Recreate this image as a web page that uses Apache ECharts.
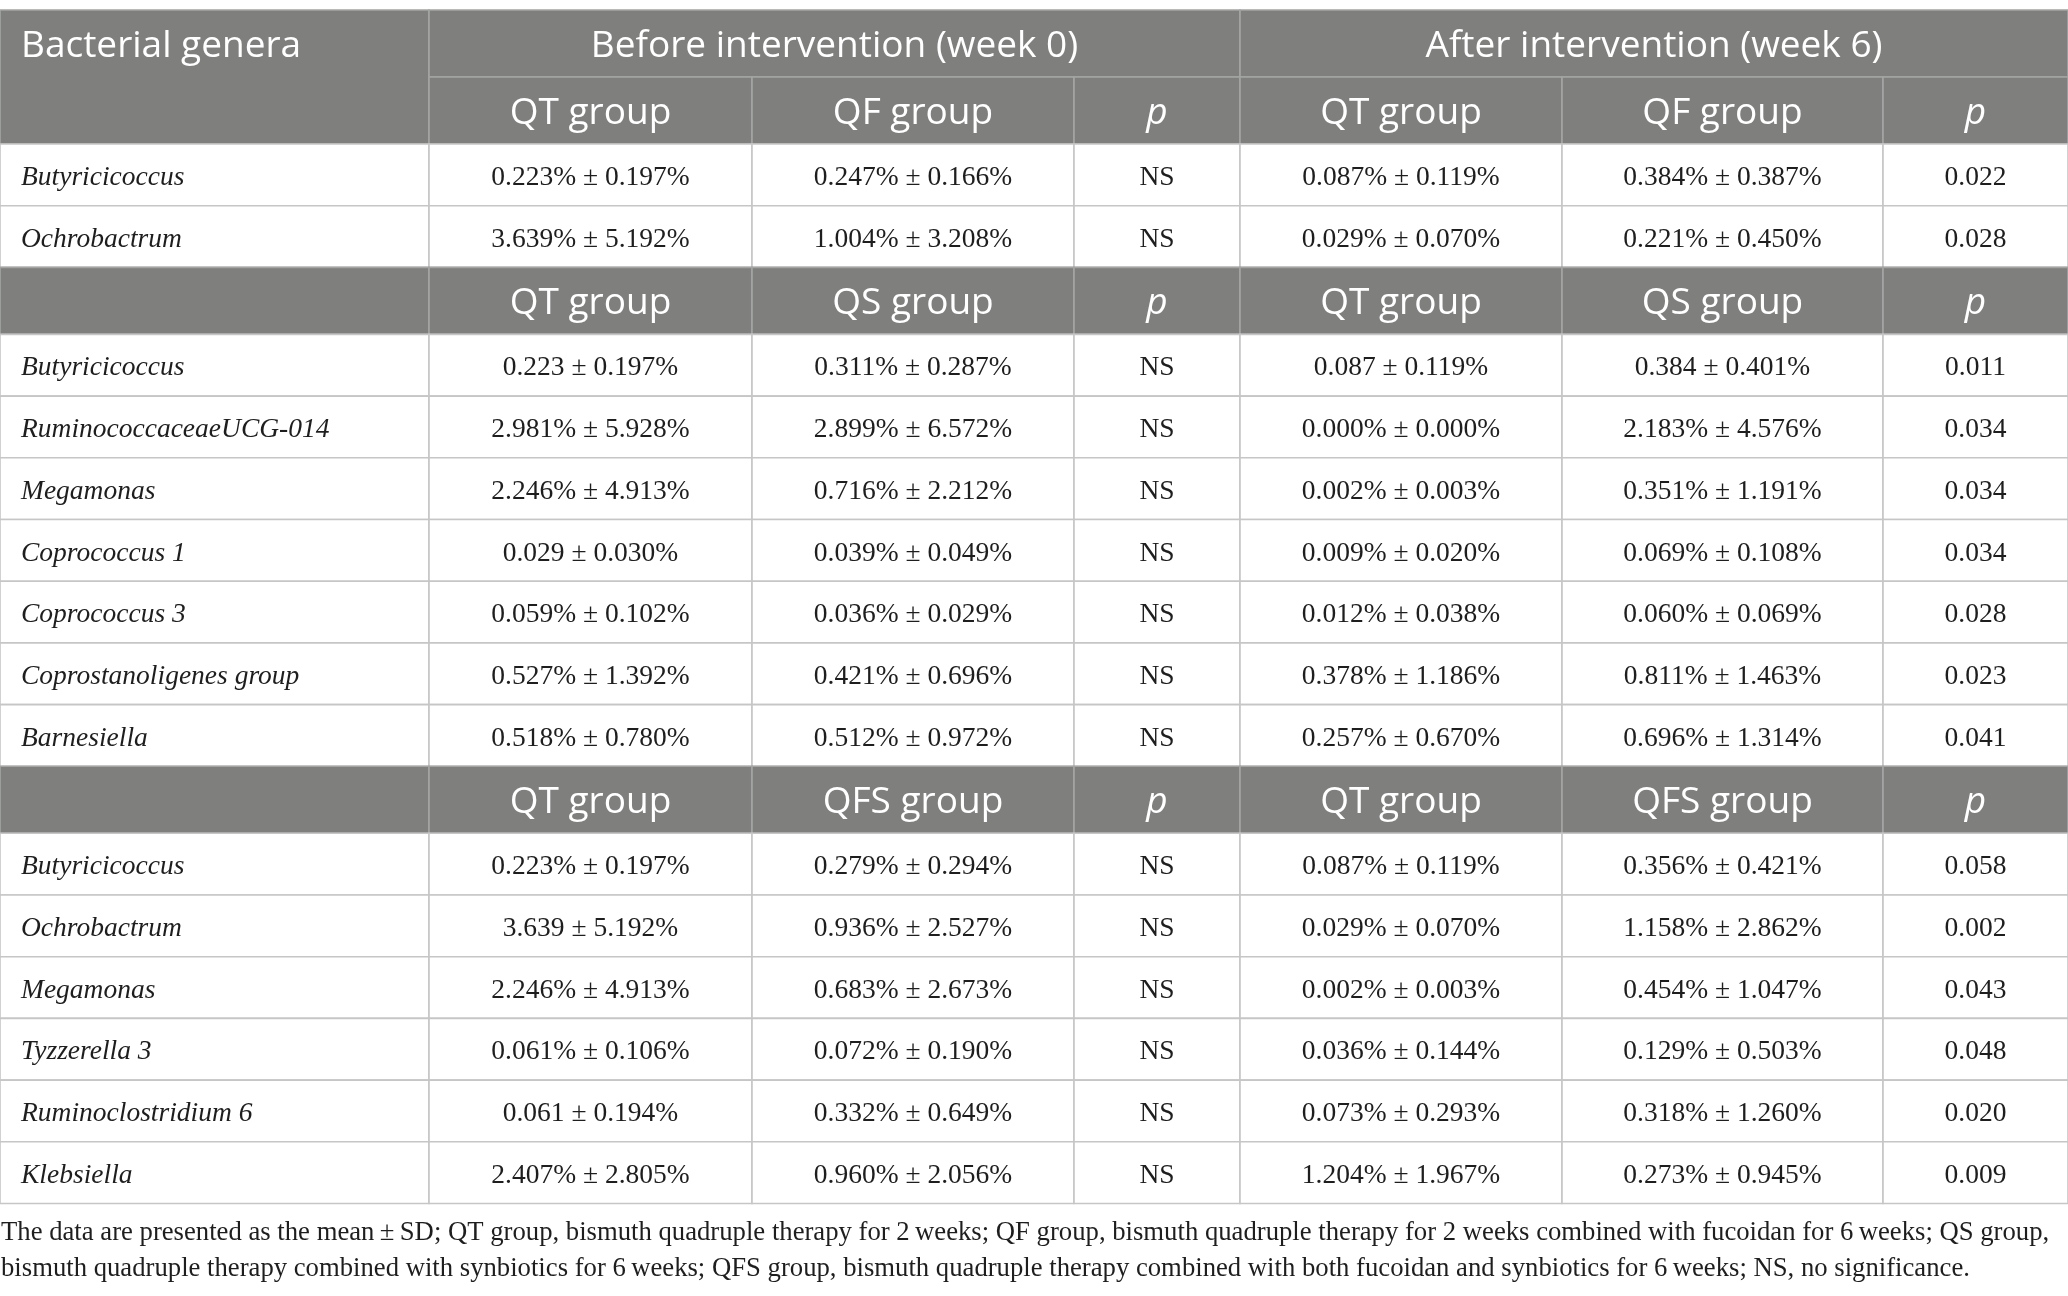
<!DOCTYPE html>
<html>
<head>
<meta charset="utf-8">
<title>Bacterial genera table</title>
<script src="https://cdn.jsdelivr.net/npm/echarts@6/dist/echarts.min.js"></script>
<style>
  html, body { margin: 0; padding: 0; background: #fff; }
  #main { width: 2068px; height: 1296px; }
</style>
</head>
<body>
<div id="main"></div>
<script>
// header texts
var firstHeader = 'Bacterial genera';
var periodLabels = ['Before intervention (week 0)', 'After intervention (week 6)'];
var controlGroup = 'QT group';
var compareGroups = ['QF group', 'QS group', 'QFS group'];
var pLabel = 'p';

// rows: genus, before QT, before other, before p, after QT, after other, after p
var qfRows = [
    ['Butyricicoccus', '0.223% ± 0.197%', '0.247% ± 0.166%', 'NS', '0.087% ± 0.119%', '0.384% ± 0.387%', '0.022'],
    ['Ochrobactrum', '3.639% ± 5.192%', '1.004% ± 3.208%', 'NS', '0.029% ± 0.070%', '0.221% ± 0.450%', '0.028']
];
var qsRows = [
    ['Butyricicoccus', '0.223 ± 0.197%', '0.311% ± 0.287%', 'NS', '0.087 ± 0.119%', '0.384 ± 0.401%', '0.011'],
    ['RuminococcaceaeUCG-014', '2.981% ± 5.928%', '2.899% ± 6.572%', 'NS', '0.000% ± 0.000%', '2.183% ± 4.576%', '0.034'],
    ['Megamonas', '2.246% ± 4.913%', '0.716% ± 2.212%', 'NS', '0.002% ± 0.003%', '0.351% ± 1.191%', '0.034'],
    ['Coprococcus 1', '0.029 ± 0.030%', '0.039% ± 0.049%', 'NS', '0.009% ± 0.020%', '0.069% ± 0.108%', '0.034'],
    ['Coprococcus 3', '0.059% ± 0.102%', '0.036% ± 0.029%', 'NS', '0.012% ± 0.038%', '0.060% ± 0.069%', '0.028'],
    ['Coprostanoligenes group', '0.527% ± 1.392%', '0.421% ± 0.696%', 'NS', '0.378% ± 1.186%', '0.811% ± 1.463%', '0.023'],
    ['Barnesiella', '0.518% ± 0.780%', '0.512% ± 0.972%', 'NS', '0.257% ± 0.670%', '0.696% ± 1.314%', '0.041']
];
var qfsRows = [
    ['Butyricicoccus', '0.223% ± 0.197%', '0.279% ± 0.294%', 'NS', '0.087% ± 0.119%', '0.356% ± 0.421%', '0.058'],
    ['Ochrobactrum', '3.639 ± 5.192%', '0.936% ± 2.527%', 'NS', '0.029% ± 0.070%', '1.158% ± 2.862%', '0.002'],
    ['Megamonas', '2.246% ± 4.913%', '0.683% ± 2.673%', 'NS', '0.002% ± 0.003%', '0.454% ± 1.047%', '0.043'],
    ['Tyzzerella 3', '0.061% ± 0.106%', '0.072% ± 0.190%', 'NS', '0.036% ± 0.144%', '0.129% ± 0.503%', '0.048'],
    ['Ruminoclostridium 6', '0.061 ± 0.194%', '0.332% ± 0.649%', 'NS', '0.073% ± 0.293%', '0.318% ± 1.260%', '0.020'],
    ['Klebsiella', '2.407% ± 2.805%', '0.960% ± 2.056%', 'NS', '1.204% ± 1.967%', '0.273% ± 0.945%', '0.009']
];
var footnoteLines = [
    'The data are presented as the mean\u2009±\u2009SD; QT group, bismuth quadruple therapy for 2\u2009weeks; QF group, bismuth quadruple therapy for 2 weeks combined with fucoidan for 6\u2009weeks; QS group,',
    'bismuth quadruple therapy combined with synbiotics for 6\u2009weeks; QFS group, bismuth quadruple therapy combined with both fucoidan and synbiotics for 6\u2009weeks; NS, no significance.'
];

// layout
var colEdges = [0, 429, 752, 1074, 1240, 1562, 1883, 2068];
var tableTop = 10, headH = 67, rowH = 61.7;
var HEAD_BG = '#7f807e', HEAD_LINE = '#a4a5a3', BODY_LINE = '#c6c6c6';
var SANS = '"Open Sans", "DejaVu Sans", sans-serif';
var SERIF = '"Liberation Serif", "DejaVu Serif", serif';

// build cell list
var cells = [];
var y = tableTop;
function addCell(c0, c1, y0, y1, text, kind, extra) {
    var cell = {value: [colEdges[c0], colEdges[c1], y0, y1], text: text, kind: kind};
    for (var k in extra) cell[k] = extra[k];
    cells.push(cell);
}
// top header row
addCell(0, 1, y, y + headH * 2, firstHeader, 'head', {align: 'left', textTop: true});
addCell(1, 4, y, y + headH, periodLabels[0], 'head');
addCell(4, 7, y, y + headH, periodLabels[1], 'head');
y += headH;

var sections = [qfRows, qsRows, qfsRows];
sections.forEach(function (rows, s) {
    var subs = [controlGroup, compareGroups[s], pLabel, controlGroup, compareGroups[s], pLabel];
    if (s > 0) addCell(0, 1, y, y + headH, '', 'head');
    subs.forEach(function (t, i) {
        addCell(i + 1, i + 2, y, y + headH, t, 'head', {italic: t === pLabel});
    });
    y += headH;
    rows.forEach(function (r) {
        r.forEach(function (t, i) {
            addCell(i, i + 1, y, y + rowH, t, 'body', i === 0 ? {align: 'left', italic: true} : {});
        });
        y += rowH;
    });
});
var tableBottom = y;

function renderCell(params, api) {
    var cell = cells[params.dataIndex];
    var p0 = api.coord([api.value(0), api.value(2)]);
    var p1 = api.coord([api.value(1), api.value(3)]);
    var w = p1[0] - p0[0], h = p1[1] - p0[1];
    var head = cell.kind === 'head';
    var left = cell.align === 'left';
    var ty = cell.textTop ? p0[1] + headH / 2 : p0[1] + h / 2;
    var font = (cell.italic ? 'italic ' : '') + (head ? '400 37px ' + SANS : '27.5px ' + SERIF);
    return {
        type: 'group',
        children: [
            {
                type: 'rect',
                shape: {x: p0[0], y: p0[1], width: w, height: h},
                style: {fill: head ? HEAD_BG : '#fff', stroke: head ? HEAD_LINE : BODY_LINE, lineWidth: 1.6}
            },
            {
                type: 'text',
                style: {
                    text: cell.text,
                    x: left ? p0[0] + 21 : p0[0] + w / 2,
                    y: ty + (head ? 3 : 3),
                    align: left ? 'left' : 'center',
                    verticalAlign: 'middle',
                    font: font,
                    fill: head ? '#ffffff' : '#1e1e1e'
                }
            }
        ]
    };
}

var myChart = echarts.init(document.getElementById('main'));
var option = {
    backgroundColor: '#fff',
    animation: false,
    grid: {left: 0, right: 0, top: 0, bottom: 0},
    xAxis: {type: 'value', min: 0, max: 2068, show: false},
    yAxis: {type: 'value', min: 0, max: 1296, inverse: true, show: false},
    series: [{
        type: 'custom',
        renderItem: renderCell,
        encode: {x: [0, 1], y: [2, 3]},
        clip: false,
        data: cells
    }],
    graphic: footnoteLines.map(function (t, i) {
        return {
            type: 'text',
            left: 1,
            top: tableBottom + 16 + i * 36,
            style: {text: t, font: '26.7px ' + SERIF, fill: '#1e1e1e'}
        };
    })
};
myChart.setOption(option);
</script>
</body>
</html>
